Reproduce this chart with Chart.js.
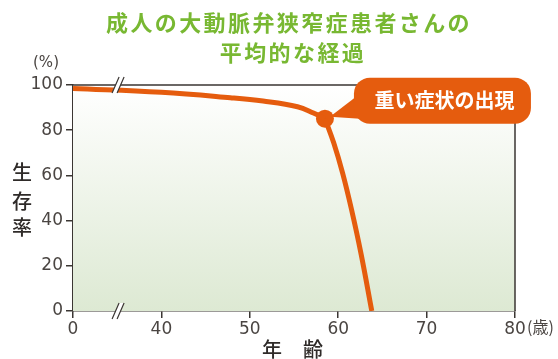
<!DOCTYPE html>
<html>
<head>
<meta charset="utf-8">
<script src="https://cdn.jsdelivr.net/npm/chart.js@4"></script>
<style>
  html, body { margin: 0; padding: 0; background: #fff; }
  #wrap { width: 558px; height: 359px; }
</style>
</head>
<body>
<div id="wrap"><canvas id="c" width="558" height="359"></canvas></div>
<script>
// data
const titleLines = ["成人の大動脈弁狭窄症患者さんの", "平均的な経過"];
const xTicks = [0, 40, 50, 60, 70, 80];
const yTicks = [0, 20, 40, 60, 80, 100];

// before symptoms appear
const agesBefore = [0, 40, 47.8, 51.5, 55.4, 57.2, 58.5];
const survivalBefore = [98.5, 96.8, 94.4, 92.9, 90.4, 87.6, 85.1];
// after symptoms appear
const agesAfter = [58.5, 59.5, 60.5, 61.5, 62.6, 63.8];
const survivalAfter = [85.1, 74.3, 61, 45, 25, 0];

const eventAge = 58.5;
const eventSurvival = 85.1;
const eventLabel = "重い症状の出現";

const ORANGE = "#e55c0e";
const AXIS = "#3b3633";
const TEXT = "#4a4542";
const JP = "'Noto Sans CJK JP', 'Noto Sans', sans-serif";

// axis is broken between 0 and 40: 0..40 squeezed into 30..40
function axisPos(age) {
    return age < 40 ? 30 + age / 4 : age;
}
function toPoints(ages, vals) {
    return ages.map((a, i) => ({ x: axisPos(a), y: vals[i] }));
}

// -----------------------------
// Extras plugin
// -----------------------------
const extras = {
    id: "extras",
    beforeDatasetsDraw(chart) {
        const { ctx, chartArea: a } = chart;
        const g = ctx.createLinearGradient(0, a.top, 0, a.bottom);
        g.addColorStop(0, "#ffffff");
        g.addColorStop(1, "#dde9d3");
        ctx.save();
        ctx.fillStyle = g;
        ctx.fillRect(a.left, a.top, a.right - a.left, a.bottom - a.top);
        ctx.strokeStyle = AXIS;
        ctx.lineWidth = 1.5;
        ctx.beginPath();
        ctx.moveTo(a.left, a.top);
        ctx.lineTo(a.right, a.top);
        ctx.lineTo(a.right, a.bottom);
        ctx.stroke();
        ctx.restore();
    },
    afterDatasetsDraw(chart) {
        const { ctx, chartArea: a, scales: { x, y } } = chart;
        ctx.save();

        // axis break marks
        const bx = x.getPixelForValue(35.1);
        [a.top, a.bottom].forEach(by => {
            ctx.fillStyle = "#ffffff";
            ctx.beginPath();
            ctx.moveTo(bx - 6, by + 8);
            ctx.lineTo(bx - 1, by + 8);
            ctx.lineTo(bx + 6, by - 8);
            ctx.lineTo(bx + 1, by - 8);
            ctx.closePath();
            ctx.fill();
            ctx.strokeStyle = AXIS;
            ctx.lineWidth = 1.2;
            ctx.beginPath();
            ctx.moveTo(bx - 6, by + 8); ctx.lineTo(bx + 1, by - 8);
            ctx.moveTo(bx - 1, by + 8); ctx.lineTo(bx + 6, by - 8);
            ctx.stroke();
        });

        // callout
        const px = x.getPixelForValue(eventAge);
        const py = y.getPixelForValue(eventSurvival);
        const bxl = px + 29, bxr = px + 206, byt = py - 41, byb = py + 5, r = 16;
        ctx.fillStyle = ORANGE;
        ctx.beginPath();
        ctx.moveTo(px + 5, py - 2);
        ctx.lineTo(bxl + 6, byt + 16);
        ctx.lineTo(bxl + 6, py);
        ctx.closePath();
        ctx.fill();
        ctx.beginPath();
        ctx.roundRect(bxl, byt, bxr - bxl, byb - byt, r);
        ctx.fill();
        ctx.fillStyle = "#ffffff";
        ctx.font = "bold 20px " + JP;
        ctx.textAlign = "center";
        ctx.textBaseline = "middle";
        ctx.fillText(eventLabel, (bxl + bxr) / 2 + 2, (byt + byb) / 2);

        // title
        ctx.fillStyle = "#78b832";
        ctx.font = "bold 22px " + JP;
        ctx.letterSpacing = "2.4px";
        ctx.fillText(titleLines[0], 289, 23);
        ctx.fillText(titleLines[1], 293, 53);
        ctx.letterSpacing = "0px";

        // units
        ctx.fillStyle = TEXT;
        ctx.font = "15px 'DejaVu Sans', sans-serif";
        ctx.fillText("(%)", 46, 63);
        ctx.textAlign = "left";
        ctx.font = "16px " + JP;
        ctx.fillText("(歳)", a.right + 12, a.bottom + 16);

        // axis titles
        ctx.textAlign = "center";
        ctx.fillStyle = "#2f2b29";
        ctx.font = "500 20px " + JP;
        ctx.fillText("生", 22, 172);
        ctx.fillText("存", 22, 201);
        ctx.fillText("率", 22, 227);
        ctx.fillText("年", 272, 349);
        ctx.fillText("齢", 313, 349);
        ctx.restore();
    }
};

// -----------------------------
// Chart
// -----------------------------
const ctx = document.getElementById("c").getContext("2d");
new Chart(ctx, {
    type: "line",
    data: {
        datasets: [
            {
                data: toPoints(agesBefore, survivalBefore),
                borderColor: ORANGE, borderWidth: 5,
                tension: 0.4,
                pointRadius: 0
            },
            {
                data: toPoints(agesAfter, survivalAfter),
                borderColor: ORANGE, borderWidth: 5,
                tension: 0.4,
                pointRadius: 0
            },
            {
                data: [{ x: eventAge, y: eventSurvival }],
                showLine: false,
                pointRadius: 9, pointHoverRadius: 9,
                pointBackgroundColor: ORANGE, pointBorderWidth: 0
            }
        ]
    },
    options: {
        responsive: false,
        animation: false,
        layout: { padding: { top: 85, right: 43, left: 0, bottom: 0 } },
        plugins: { legend: { display: false }, tooltip: { enabled: false }, title: { display: false } },
        scales: {
            x: {
                type: "linear", min: 30, max: 80,
                afterBuildTicks: s => { s.ticks = xTicks.map(v => ({ value: axisPos(v) })); },
                afterFit: s => { s.height = 48; },
                ticks: {
                    color: TEXT, padding: 1,
                    font: { family: "'DejaVu Sans', sans-serif", size: 17 },
                    callback: v => (v === 30 ? "0" : String(v))
                },
                grid: { drawOnChartArea: false, drawTicks: true, tickLength: 7, color: AXIS, lineWidth: 1.5 },
                border: { display: true, color: AXIS, width: 1.5 }
            },
            y: {
                min: 0, max: 100,
                afterBuildTicks: s => { s.ticks = yTicks.map(v => ({ value: v })); },
                afterFit: s => { s.width = 73; },
                ticks: {
                    color: TEXT, padding: 3,
                    font: { family: "'DejaVu Sans', sans-serif", size: 17 }
                },
                grid: { drawOnChartArea: false, drawTicks: true, tickLength: 7, color: AXIS, lineWidth: 1.5 },
                border: { display: true, color: AXIS, width: 1.5 }
            }
        }
    },
    plugins: [extras]
});
</script>
</body>
</html>
